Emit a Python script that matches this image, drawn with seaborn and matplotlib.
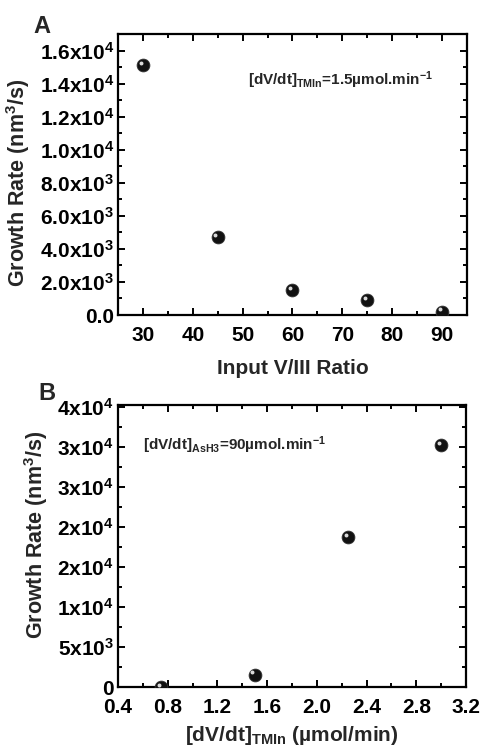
import numpy as np
import pandas as pd
import seaborn as sns
import matplotlib
matplotlib.use("Agg")
import matplotlib.pyplot as plt
from matplotlib.ticker import MultipleLocator, FixedLocator, FixedFormatter
from matplotlib.transforms import ScaledTranslation

# Panel A data: growth rate vs input V/III ratio
ratio = [30, 45, 60, 75, 90]
rate_a = [15100, 4700, 1500, 900, 200]
a_ticks = [0, 2000, 4000, 6000, 8000, 10000, 12000, 14000, 16000]
a_labels = ["0.0", "2.0x10$^3$", "4.0x10$^3$", "6.0x10$^3$", "8.0x10$^3$",
            "1.0x10$^4$", "1.2x10$^4$", "1.4x10$^4$", "1.6x10$^4$"]

# Panel B data: growth rate vs TMIn flow
tmin_flow = [0.75, 1.5, 2.25, 3.0]
rate_b = [0, 1550, 18750, 30200]
b_ticks = [0, 5000, 10000, 15000, 20000, 25000, 30000, 35000]
b_labels = ["0", "5x10$^3$", "1x10$^4$", "2x10$^4$", "2x10$^4$",
            "3x10$^4$", "3x10$^4$", "4x10$^4$"]

sns.set_theme(style="ticks")
plt.rcParams["font.family"] = ["Liberation Sans", "DejaVu Sans"]
plt.rcParams["font.weight"] = "bold"
plt.rcParams["axes.labelweight"] = "bold"
plt.rcParams["mathtext.fontset"] = "custom"
plt.rcParams["mathtext.rm"] = "Liberation Sans:bold"
plt.rcParams["mathtext.it"] = "Liberation Sans:bold"
plt.rcParams["mathtext.bf"] = "Liberation Sans:bold"
plt.rcParams["mathtext.default"] = "rm"

fig = plt.figure(figsize=(4.82, 7.52), dpi=100)
ax_a = fig.add_axes([0.2448, 0.5811, 0.724, 0.3737])
ax_b = fig.add_axes([0.2448, 0.0864, 0.722, 0.375])


def sphere_points(ax, x, y):
    # dark ball + small highlight to look like the shaded spheres
    df = pd.DataFrame({"x": x, "y": y})
    sns.scatterplot(data=df, x="x", y="y", ax=ax, s=85, color="#111111",
                    edgecolor="#333333", linewidth=0.6, zorder=3, legend=False)
    shift = ax.transData + ScaledTranslation(-1.6 / 72, 1.6 / 72, fig.dpi_scale_trans)
    ax.scatter(x, y, s=8, color="white", alpha=0.85, linewidths=0,
               transform=shift, zorder=4)


def style_axes(ax):
    for sp in ax.spines.values():
        sp.set_linewidth(1.6)
        sp.set_color("black")
    ax.tick_params(which="both", direction="in", top=True, right=True,
                   colors="black", width=1.4, labelsize=15)
    ax.tick_params(axis="y", pad=3)
    ax.tick_params(axis="x", pad=8)
    ax.tick_params(which="major", length=5)
    ax.tick_params(which="minor", length=3)
    for lab in ax.get_xticklabels() + ax.get_yticklabels():
        lab.set_fontweight("bold")


# Panel A
sphere_points(ax_a, ratio, rate_a)
ax_a.set_xlim(25, 95)
ax_a.set_ylim(0, 17000)
ax_a.xaxis.set_major_locator(MultipleLocator(10))
ax_a.xaxis.set_minor_locator(MultipleLocator(5))
ax_a.yaxis.set_major_locator(FixedLocator(a_ticks))
ax_a.yaxis.set_major_formatter(FixedFormatter(a_labels))
ax_a.yaxis.set_minor_locator(MultipleLocator(1000))
style_axes(ax_a)
ax_a.set_xlabel("Input V/III Ratio", fontsize=15, fontweight="bold")
ax_a.set_ylabel("Growth Rate (nm$^3$/s)", fontsize=15.5, fontweight="bold")
ax_a.xaxis.set_label_coords(0.5, -0.155)
ax_a.yaxis.set_label_coords(-0.245, 0.47)
ax_a.text(0.372, 0.836, "[dV/dt]$_{\\mathrm{TMIn}}$=1.5µmol.min$^{-1}$",
          transform=ax_a.transAxes, fontsize=11, fontweight="bold", va="center")
fig.text(33 / 482, 1 - 15 / 752, "A", fontsize=17, fontweight="bold", va="top")

# Panel B
sphere_points(ax_b, tmin_flow, rate_b)
ax_b.set_xlim(0.4, 3.2)
ax_b.set_ylim(0, 35200)
ax_b.xaxis.set_major_locator(MultipleLocator(0.4))
ax_b.xaxis.set_minor_locator(MultipleLocator(0.2))
ax_b.xaxis.set_major_formatter(plt.FormatStrFormatter("%.1f"))
ax_b.yaxis.set_major_locator(FixedLocator(b_ticks))
ax_b.yaxis.set_major_formatter(FixedFormatter(b_labels))
ax_b.yaxis.set_minor_locator(MultipleLocator(2500))
style_axes(ax_b)
ax_b.set_xlabel("[dV/dt]$_{\\mathrm{TMIn}}$ (µmol/min)", fontsize=15, fontweight="bold")
ax_b.set_ylabel("Growth Rate (nm$^3$/s)", fontsize=15.5, fontweight="bold")
ax_b.xaxis.set_label_coords(0.5, -0.13)
ax_b.yaxis.set_label_coords(-0.195, 0.54)
ax_b.text(0.073, 0.858, "[dV/dt]$_{\\mathrm{AsH3}}$=90µmol.min$^{-1}$",
          transform=ax_b.transAxes, fontsize=11, fontweight="bold", va="center")
fig.text(38 / 482, 1 - 382 / 752, "B", fontsize=17, fontweight="bold", va="top")

fig.savefig("out.png", dpi=100, facecolor="white")
